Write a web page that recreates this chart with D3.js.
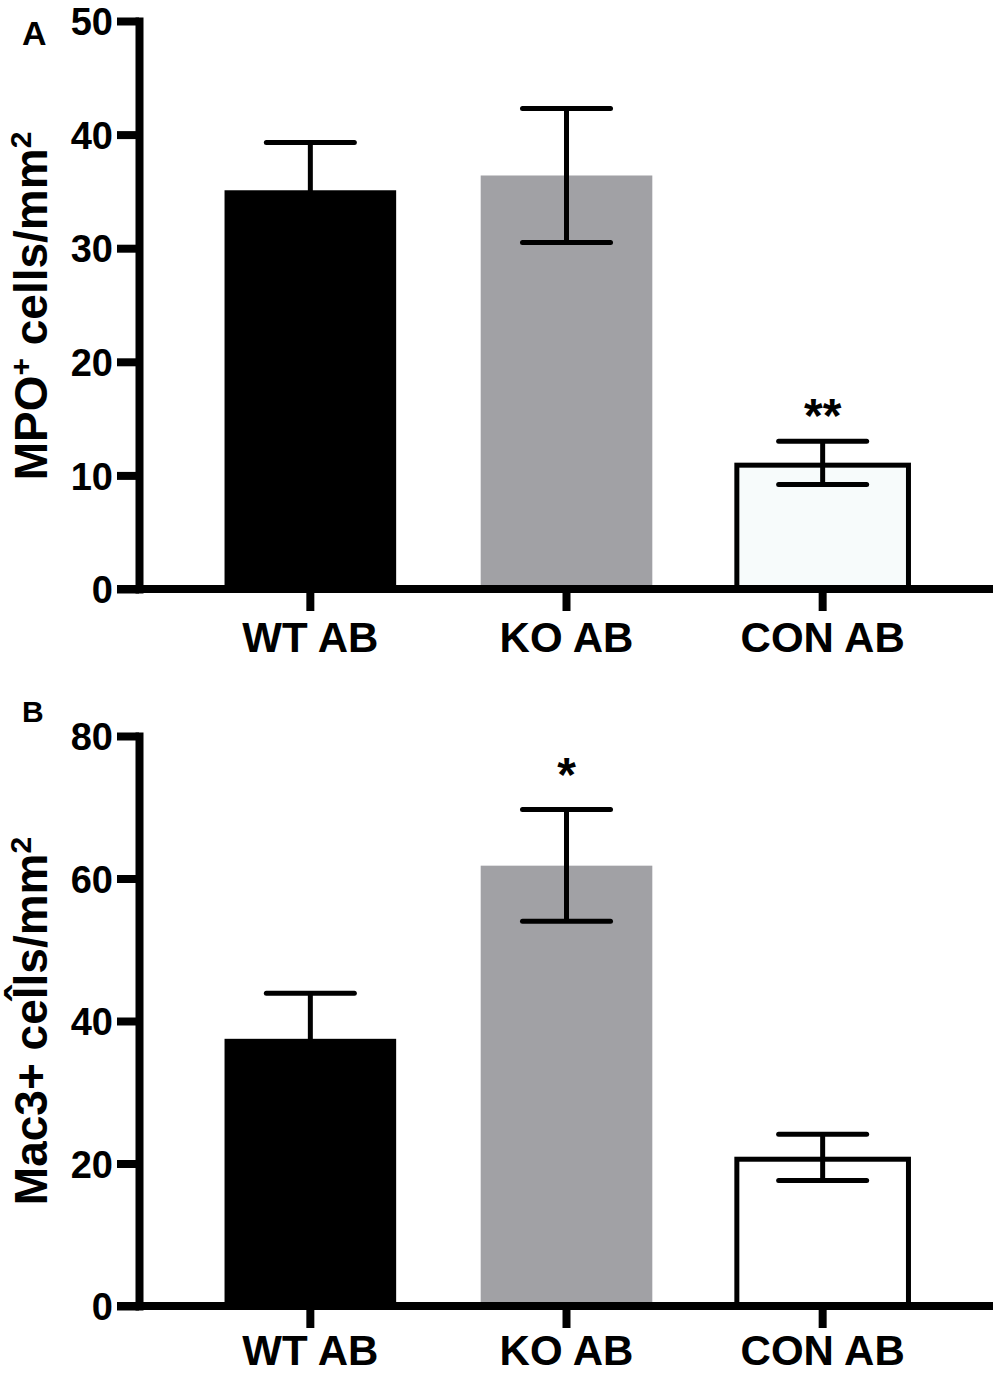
<!DOCTYPE html>
<html>
<head>
<meta charset="utf-8">
<script src="https://cdn.jsdelivr.net/npm/d3@7"></script>
<style>
  html, body { margin: 0; padding: 0; background: #fff; }
  svg text { font-family: "Liberation Sans", Arial, sans-serif; font-weight: bold; fill: #000; }
</style>
</head>
<body>
<script>
// groups on the x axis
var categories = ["WT AB", "KO AB", "CON AB"]
var barFills = ["#000000", "#a1a1a5", "#f7fbfb"]
var barFillsB = ["#000000", "#a1a1a5", "#ffffff"]

// panel A : MPO+ cells/mm2
var mpoMean = [35.1, 36.4, 10.9]
var mpoUpper = [39.3, 42.3, 13.0]
var mpoLower = [30.9, 30.5, 9.2]
var mpoTicks = [0, 10, 20, 30, 40, 50]
var mpoStars = ["", "", "**"]

// panel B : Mac3+ cells/mm2
var macMean = [37.5, 61.8, 20.6]
var macUpper = [43.9, 69.7, 24.1]
var macLower = [31.1, 54.0, 17.6]
var macTicks = [0, 20, 40, 60, 80]
var macStars = ["", "*", ""]

var W = 1000, H = 1376

var svg = d3.select("body").append("svg")
  .attr("width", W)
  .attr("height", H)

function drawPanel(p) {
  var g = svg.append("g")

  var x = d3.scaleBand()
    .domain(categories)
    .range([140, 993])
    .paddingInner(0.33)
    .paddingOuter(0.33)

  var y = d3.scaleLinear()
    .domain([0, d3.max(p.ticks)])
    .range([p.bottom, p.top])

  var rows = categories.map(function(c, i) {
    return { cat: c, mean: p.mean[i], hi: p.upper[i], lo: p.lower[i], fill: p.fills[i], star: p.stars[i] }
  })

  // bars
  g.selectAll("rect.bar")
    .data(rows)
    .enter()
    .append("rect")
    .attr("class", "bar")
    .attr("x", function(d) { return x(d.cat) })
    .attr("width", x.bandwidth())
    .attr("y", function(d) { return y(d.mean) })
    .attr("height", function(d) { return y(0) - y(d.mean) })
    .attr("fill", function(d) { return d.fill })
    .attr("stroke", function(d, i) { return i == 2 ? "#000" : "none" })
    .attr("stroke-width", 5)

  // error bars
  var err = g.selectAll("g.err")
    .data(rows)
    .enter()
    .append("g")
    .attr("class", "err")
    .attr("stroke", "#000")
    .attr("stroke-width", 5)
    .attr("stroke-linecap", "round")

  err.append("line")
    .attr("x1", function(d) { return x(d.cat) + x.bandwidth() / 2 })
    .attr("x2", function(d) { return x(d.cat) + x.bandwidth() / 2 })
    .attr("y1", function(d) { return y(d.hi) })
    .attr("y2", function(d) { return y(d.lo) })
    .attr("stroke-linecap", "butt")
  err.append("line")
    .attr("x1", function(d) { return x(d.cat) + x.bandwidth() / 2 - 44 })
    .attr("x2", function(d) { return x(d.cat) + x.bandwidth() / 2 + 44 })
    .attr("y1", function(d) { return y(d.hi) })
    .attr("y2", function(d) { return y(d.hi) })
  err.append("line")
    .attr("x1", function(d) { return x(d.cat) + x.bandwidth() / 2 - 44 })
    .attr("x2", function(d) { return x(d.cat) + x.bandwidth() / 2 + 44 })
    .attr("y1", function(d) { return y(d.lo) })
    .attr("y2", function(d) { return y(d.lo) })

  // significance stars
  g.selectAll("text.star")
    .data(rows)
    .enter()
    .append("text")
    .attr("class", "star")
    .attr("x", function(d) { return x(d.cat) + x.bandwidth() / 2 })
    .attr("y", function(d) { return y(d.hi) - p.starGap })
    .attr("text-anchor", "middle")
    .style("font-size", "48px")
    .text(function(d) { return d.star })

  // y axis
  var yAxis = g.append("g")
    .attr("transform", "translate(139,0)")
    .call(d3.axisLeft(y).tickValues(p.ticks).tickSize(22).tickSizeOuter(0).tickPadding(4))
  yAxis.select(".domain")
    .attr("stroke", "#000")
    .attr("stroke-width", 8)
    .attr("stroke-linecap", "square")
  yAxis.selectAll(".tick line")
    .attr("stroke", "#000")
    .attr("stroke-width", 8)
  yAxis.selectAll(".tick text")
    .style("font-size", "38px")
    .style("font-family", "'Liberation Sans', Arial, sans-serif")
    .style("font-weight", "bold")
    .attr("fill", "#000")
    .attr("dy", "0.36em")

  // x axis
  var xAxis = g.append("g")
    .attr("transform", "translate(0," + y(0) + ")")
    .call(d3.axisBottom(x).tickSize(22).tickSizeOuter(0).tickPadding(p.labelPad))
  xAxis.select(".domain").remove()
  xAxis.selectAll(".tick line")
    .attr("stroke", "#000")
    .attr("stroke-width", 8)
  xAxis.selectAll(".tick text")
    .style("font-size", "42px")
    .style("font-family", "'Liberation Sans', Arial, sans-serif")
    .style("font-weight", "bold")
    .attr("fill", "#000")
  xAxis.append("line")
    .attr("x1", 117)
    .attr("x2", 993)
    .attr("y1", 0)
    .attr("y2", 0)
    .attr("stroke", "#000")
    .attr("stroke-width", 8)

  // y axis title
  var t = g.append("text")
    .attr("transform", "translate(47," + p.titleY + ") rotate(-90)")
    .attr("text-anchor", "middle")
    .style("font-size", "46px")
  t.append("tspan").text(p.title[0])
  t.append("tspan").attr("baseline-shift", "super").style("font-size", "30px").text(p.title[1])
  t.append("tspan").text(p.title[2])
  t.append("tspan").attr("baseline-shift", "super").style("font-size", "30px").text("2")

  // panel letter
  g.append("text")
    .attr("x", 22)
    .attr("y", p.letterY)
    .style("font-size", p.letterSize + "px")
    .text(p.letter)
}

drawPanel({
  top: 21, bottom: 589, ticks: mpoTicks,
  mean: mpoMean, upper: mpoUpper, lower: mpoLower, fills: barFills, stars: mpoStars, starGap: 9,
  labelPad: 11, title: ["MPO", "+", " cells/mm"], titleY: 306,
  letter: "A", letterY: 45, letterSize: 34
})

drawPanel({
  top: 736, bottom: 1306, ticks: macTicks,
  mean: macMean, upper: macUpper, lower: macLower, fills: barFillsB, stars: macStars, starGap: 18,
  labelPad: 7, title: ["Mac3+ cel\u0302ls/mm", "", ""], titleY: 1021,
  letter: "B", letterY: 722, letterSize: 30
})
</script>
</body>
</html>
